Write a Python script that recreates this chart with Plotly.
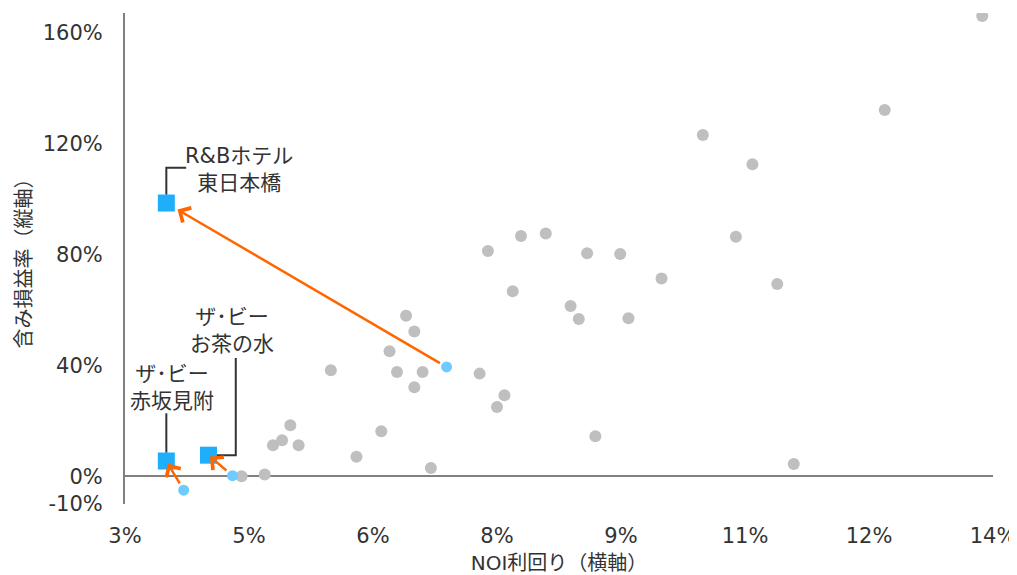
import plotly.graph_objects as go

# その他の物件: NOI利回り(%) / 含み損益率(%)
other_x = [4.41, 4.69, 4.79, 4.90, 5.00, 5.10, 5.49, 5.80, 6.10, 6.20, 6.29, 6.40, 6.50,
           6.50, 6.60, 6.70, 7.29, 7.59, 7.50, 8.69, 7.39, 7.79, 8.09, 7.69, 8.39, 8.49,
           8.59, 8.99, 9.09, 9.49, 9.99, 10.59, 10.39, 10.89, 11.09, 12.19, 13.37]
other_y = [0.0, 0.6, 11.2, 13.0, 18.4, 11.2, 38.2, 7.0, 16.2, 45.1, 37.6, 57.9, 52.2,
           32.1, 37.6, 3.0, 37.0, 29.2, 25.0, 14.4, 81.2, 86.6, 87.5, 66.7, 61.4, 56.7,
           80.4, 80.1, 57.0, 71.3, 123.0, 112.5, 86.3, 69.3, 4.4, 132.0, 165.9]

# 注目物件 (変化前 -> 変化後)
hotel_names = ["R&Bホテル<br>東日本橋", "ザ･ビー<br>赤坂見附", "ザ･ビー<br>お茶の水"]
before_x = [6.89, 3.71, 4.30]
before_y = [39.4, -5.0, 0.2]
after_x = [3.50, 3.50, 4.01]
after_y = [98.5, 5.5, 7.6]

x_ticks = [3, 4.5, 6, 7.5, 9, 10.5, 12, 13.5]
x_ticktext = ["3%", "5%", "6%", "8%", "9%", "11%", "12%", "14%"]
y_ticks = [-10, 0, 40, 80, 120, 160]
y_ticktext = ["-10%", "0%", "40%", "80%", "120%", "160%"]

text_color = "#333333"
axis_color = "#808080"
font_family = "DejaVu Sans, Noto Sans CJK JP, sans-serif"

fig = go.Figure()

fig.add_trace(go.Scatter(
    x=other_x, y=other_y, mode="markers",
    marker=dict(color="#BFBFBF", size=12),
    showlegend=False, hoverinfo="skip"))

fig.add_trace(go.Scatter(
    x=before_x, y=before_y, mode="markers",
    marker=dict(color="#6FCBFF", size=11),
    showlegend=False, hoverinfo="skip"))

# 引き出し線 (ラベル位置から)
label_x = [4.38, 3.565, 4.29]
label_y = [110.7, 32.1, 52.4]
leaders = [
    ([after_x[0], after_x[0], label_x[0] - 0.64], [after_y[0] + 3, label_y[0] + 0.5, label_y[0] + 0.5]),
    ([after_x[1], after_x[1]], [after_y[1] + 3, label_y[1] - 9.4]),
    ([after_x[2] + 0.1, label_x[2] + 0.05, label_x[2] + 0.05], [after_y[2], after_y[2], label_y[2] - 9.8]),
]
for lx, ly in leaders:
    fig.add_trace(go.Scatter(
        x=lx, y=ly, mode="lines",
        line=dict(color="#333333", width=2),
        showlegend=False, hoverinfo="skip"))

fig.add_trace(go.Scatter(
    x=after_x, y=after_y, mode="markers",
    marker=dict(color="#1FAFFA", size=17, symbol="square"),
    showlegend=False, hoverinfo="skip"))

standoffs = [13, 3, 2]
for i in range(len(hotel_names)):
    fig.add_annotation(
        x=after_x[i], y=after_y[i], ax=before_x[i], ay=before_y[i],
        xref="x", yref="y", axref="x", ayref="y",
        text="", showarrow=True, arrowhead=4, arrowsize=1.3,
        arrowwidth=2.5, arrowcolor="#FF6600",
        standoff=standoffs[i], startstandoff=6)
    fig.add_annotation(
        x=label_x[i], y=label_y[i], xref="x", yref="y",
        text=hotel_names[i], showarrow=False, align="center",
        font=dict(size=21, color=text_color, family=font_family))

# ページ本文の余白 (8px) を差し引いたサイズ
fig.update_layout(
    width=1009, height=567,
    margin=dict(l=117, r=24, t=5, b=71),
    plot_bgcolor="white", paper_bgcolor="white",
    font=dict(family=font_family, size=21, color=text_color),
    xaxis=dict(
        range=[3, 13.5], tickvals=x_ticks, ticktext=x_ticktext,
        showgrid=False, zeroline=False, showline=False, ticks="",
        ticklabelstandoff=17, automargin=False, ticklabeloverflow="allow",
        title=dict(text="NOI利回り（横軸）", font=dict(size=20), standoff=8)),
    yaxis=dict(
        range=[-10, 167], tickvals=y_ticks, ticktext=y_ticktext,
        showgrid=False, zeroline=True, zerolinecolor=axis_color, zerolinewidth=2,
        showline=True, linecolor=axis_color, linewidth=2, ticks="",
        ticklabelstandoff=16, automargin=False,
        title=dict(text="含み損益率（縦軸）", font=dict(size=20), standoff=6)),
)

fig.write_html("out.html")
